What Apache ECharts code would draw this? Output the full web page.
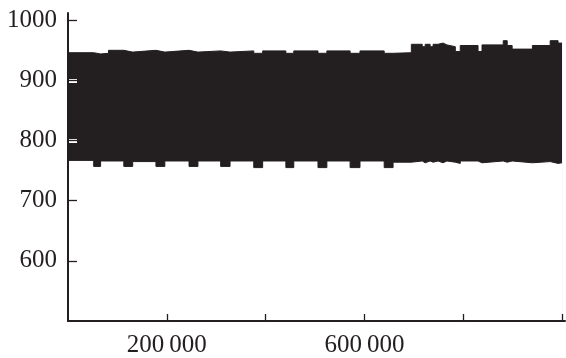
<!DOCTYPE html>
<html>
<head>
<meta charset="utf-8">
<script src="https://cdn.jsdelivr.net/npm/echarts@6/dist/echarts.min.js"></script>
<style>
  html, body { margin: 0; padding: 0; background: #fff; }
  #chart { width: 566px; height: 358px; }
</style>
</head>
<body>
<div id="chart"></div>
<script>
// envelope of the dense signal (segment starts)
const sampleX = [0, 52000, 66000, 82000, 113000, 131000, 178000, 196000, 245000, 263000,
  309000, 328000, 376000, 394000, 441000, 457000, 506000, 524000, 571000, 591000,
  640000, 658000, 695000, 717000, 723000, 733000, 739000, 749000, 759000, 767000,
  784000, 794000, 830000, 838000, 881000, 889000, 899000, 940000, 976000, 992000, 1000000]
const upper = [946, 944, 945, 950, 947, 950, 947, 950, 947, 949,
  947, 949, 945, 949, 945, 949, 945, 949, 945, 949,
  945, 946, 960, 956, 960, 956, 960, 962, 959, 956,
  948, 958, 948, 959, 966, 958, 952, 958, 966, 962, 962]
const lower = [767, 757, 766, 766, 757, 765, 757, 766, 757, 766,
  757, 766, 755, 766, 755, 766, 755, 766, 755, 766,
  755, 764, 766, 763, 766, 764, 766, 763, 766, 764,
  762, 766, 763, 766, 764, 766, 763, 765, 762, 763, 763]

const yTicks = [600, 700, 800, 900, 1000]
const xTicks = [200000, 400000, 600000, 800000, 1000000]
const xLabels = [200000, 600000]

const ink = '#231f20'
const font = 'Liberation Serif'

const upperData = sampleX.map((x, i) => [x, upper[i]])
const lowerData = sampleX.map((x, i) => [x, lower[i]])

const chart = echarts.init(document.getElementById('chart'))
chart.setOption({
  animation: false,
  backgroundColor: '#fff',
  grid: { left: 68, right: 1, top: 13, bottom: 36 },
  xAxis: {
    type: 'value', min: 0, max: 1006000, z: 4,
    splitLine: { show: false },
    axisLine: { lineStyle: { color: ink, width: 2 } },
    axisTick: { inside: true, length: 7, customValues: xTicks, lineStyle: { color: ink, width: 1.3 } },
    axisLabel: {
      customValues: xLabels, margin: 12, color: ink, fontFamily: font, fontSize: 25,
      formatter: (v) => String(v).replace(/\B(?=(\d{3})+(?!\d))/g, '\u2009')
    }
  },
  yAxis: [
    {
      type: 'value', min: 500, max: 1012, z: 4,
      splitLine: { show: false },
      axisLine: { show: true, lineStyle: { color: ink, width: 2 } },
      axisTick: { show: true, inside: true, length: 9, customValues: yTicks, lineStyle: { color: ink, width: 1.3 } },
      axisLabel: {
        customValues: yTicks, margin: 11, color: ink, fontFamily: font, fontSize: 25,
        formatter: (v) => String(v)
      }
    },
    {
      // white halo under the ticks where they cross the black band
      type: 'value', min: 500, max: 1012, z: 3, position: 'left',
      splitLine: { show: false },
      axisLine: { show: false },
      axisLabel: { show: false },
      axisTick: { show: true, inside: true, length: 9, customValues: [800, 900], lineStyle: { color: '#fff', width: 4 } }
    }
  ],
  series: [
    {
      // top envelope, filled down to the axis
      name: 'signal', type: 'line', step: 'end', showSymbol: false, z: 2,
      lineStyle: { color: ink, width: 1 },
      areaStyle: { color: ink, opacity: 1, origin: 'start' },
      data: upperData
    },
    {
      // bottom envelope, masks everything below it
      name: 'floor', type: 'line', step: 'end', showSymbol: false, z: 2.5, silent: true,
      lineStyle: { color: ink, width: 1 },
      areaStyle: { color: '#fff', opacity: 1, origin: 'start' },
      data: lowerData
    }
  ]
})
</script>
</body>
</html>
